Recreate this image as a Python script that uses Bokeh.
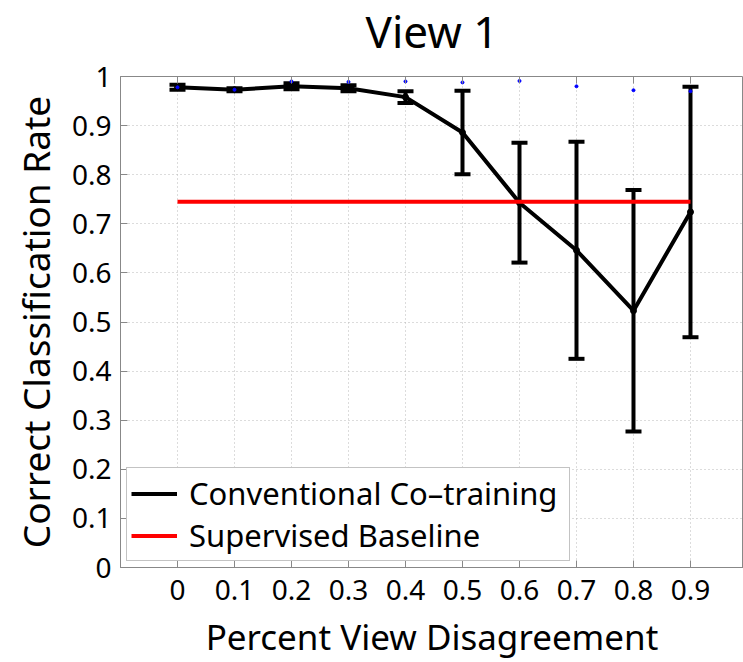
from bokeh.plotting import figure
from bokeh.models import (ColumnDataSource, Whisker, TeeHead, FixedTicker, Legend,
                          LegendItem, LinearAxis, Range1d)
from bokeh.embed import file_html
from bokeh.resources import INLINE

# ---- data ----
disagreement = [0.0, 0.1, 0.2, 0.3, 0.4, 0.5, 0.6, 0.7, 0.8, 0.9]
cotrain_mean = [0.978, 0.973, 0.980, 0.976, 0.958, 0.886, 0.743, 0.646, 0.523, 0.724]
cotrain_err = [0.005, 0.003, 0.006, 0.006, 0.012, 0.085, 0.122, 0.221, 0.246, 0.255]
blue_points = [0.978, 0.973, 0.990, 0.989, 0.990, 0.988, 0.991, 0.980, 0.972, 0.970]
baseline_x = [0.0, 0.9]
baseline_y = [0.745, 0.745]
x_tick_labels = ["0", "0.1", "0.2", "0.3", "0.4", "0.5", "0.6", "0.7", "0.8", "0.9"]
y_ticks = [0.0, 0.1, 0.2, 0.3, 0.4, 0.5, 0.6, 0.7, 0.8, 0.9, 1.0]
y_tick_labels = ["0", "0.1", "0.2", "0.3", "0.4", "0.5", "0.6", "0.7", "0.8", "0.9", "1"]

FONT = "Noto Sans"

upper = [m + e for m, e in zip(cotrain_mean, cotrain_err)]
lower = [m - e for m, e in zip(cotrain_mean, cotrain_err)]
src = ColumnDataSource(dict(x=disagreement, y=cotrain_mean, upper=upper, lower=lower,
                            blue=blue_points))

p = figure(width=743, height=679, output_backend="svg", toolbar_location=None,
           x_range=Range1d(-0.1, 0.993), y_range=Range1d(0, 1),
           min_border_left=120, min_border_right=0, min_border_bottom=0, min_border_top=0,
           title="View 1", margin=(-17, 0, 0, 0))
p.title.text_font = FONT
p.title.text_font_size = "44px"
p.title.text_font_style = "normal"
p.title.align = "center"
p.title.text_color = "black"
p.title.standoff = 31
p.title.offset = -7

p.outline_line_color = "#888888"
p.outline_line_width = 1
p.background_fill_color = "white"
p.border_fill_color = "white"

p.xaxis.ticker = FixedTicker(ticks=disagreement)
p.xaxis.major_label_overrides = {v: s for v, s in zip(disagreement, x_tick_labels)}
p.yaxis.ticker = FixedTicker(ticks=y_ticks)
p.yaxis.major_label_overrides = {v: s for v, s in zip(y_ticks, y_tick_labels)}

for ax in (p.xaxis[0], p.yaxis[0]):
    ax.axis_line_color = "#888888"
    ax.major_tick_in = 7
    ax.major_tick_out = 0
    ax.major_tick_line_color = "#888888"
    ax.minor_tick_line_color = None
    ax.major_label_text_font = FONT
    ax.major_label_text_font_size = "28px"
    ax.major_label_text_color = "black"
    ax.axis_label_text_font = FONT
    ax.axis_label_text_font_style = "normal"
    ax.axis_label_text_color = "black"

p.xaxis.axis_label_text_font_size = "35px"
p.yaxis.axis_label_text_font_size = "37px"
p.xaxis.axis_label = "Percent View Disagreement"
p.yaxis.axis_label = "Correct Classification Rate"
p.xaxis.major_label_standoff = 12
p.yaxis.major_label_standoff = 9
p.xaxis.axis_label_standoff = 10
p.yaxis.axis_label_standoff = 8

top_axis = LinearAxis(ticker=FixedTicker(ticks=disagreement), major_label_text_font_size="0px",
                      axis_line_color=None, major_tick_in=7, major_tick_out=0,
                      major_tick_line_color="#888888", minor_tick_line_color=None)
p.add_layout(top_axis, "above")

p.grid.grid_line_color = "#b8b8b8"
p.grid.grid_line_dash = "1 3"
p.grid.grid_line_width = 1
p.xgrid.ticker = FixedTicker(ticks=disagreement)
p.ygrid.ticker = FixedTicker(ticks=y_ticks)

whisk = Whisker(source=src, base="x", upper="upper", lower="lower", dimension="height",
                line_color="black", line_width=4,
                upper_head=TeeHead(size=16, line_width=4, line_color="black"),
                lower_head=TeeHead(size=16, line_width=4, line_color="black"))
p.add_layout(whisk)

l1 = p.line("x", "y", source=src, line_color="black", line_width=4)
s1 = p.scatter("x", "y", source=src, size=6, color="black")
l2 = p.line(baseline_x, baseline_y, line_color="red", line_width=4)
p.scatter("x", "blue", source=src, size=3, color="blue")

legend = Legend(items=[LegendItem(label="Conventional Co\u2013training", renderers=[l1]),
                       LegendItem(label="Supervised Baseline", renderers=[l2])],
                location="bottom_left", orientation="vertical")
legend.label_text_font = FONT
legend.label_text_font_size = "31px"
legend.label_text_color = "black"
legend.label_height = 39
legend.label_width = 376
legend.glyph_height = 39
legend.glyph_width = 46
legend.label_standoff = 12
legend.spacing = 0
legend.padding = 4
legend.margin = 6
legend.border_line_color = "#888888"
legend.border_line_width = 1
legend.background_fill_alpha = 1.0
p.add_layout(legend)

open("out.html", "w").write(file_html(p, INLINE))
